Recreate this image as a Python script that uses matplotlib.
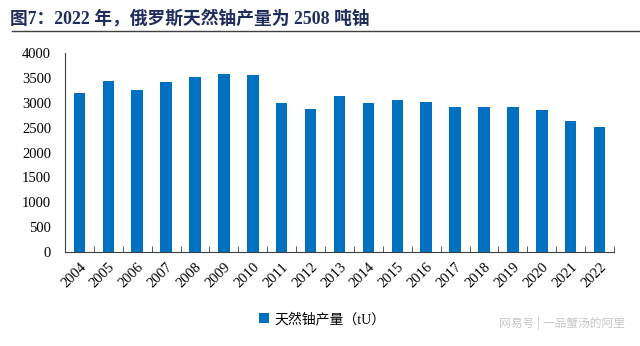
import matplotlib
matplotlib.use("Agg")
import matplotlib.pyplot as plt
from matplotlib.lines import Line2D
from matplotlib.patches import Patch

years = ["2004", "2005", "2006", "2007", "2008", "2009", "2010", "2011", "2012", "2013",
         "2014", "2015", "2016", "2017", "2018", "2019", "2020", "2021", "2022"]
production = [3200, 3431, 3262, 3413, 3521, 3564, 3562, 2993, 2872, 3135,
              2990, 3055, 3004, 2917, 2904, 2911, 2846, 2635, 2508]
yticks = [0, 500, 1000, 1500, 2000, 2500, 3000, 3500, 4000]
title = "图7：2022 年，俄罗斯天然铀产量为 2508 吨铀"
legend_label = "天然铀产量（tU）"
watermark = "网易号 | 一品蟹汤的阿里"

serif = ["Liberation Serif", "Noto Sans CJK SC"]
cjk = ["Liberation Serif", "Noto Sans CJK SC", "DejaVu Sans"]

fig = plt.figure(figsize=(6.4, 3.46), dpi=100)
ax = fig.add_axes([65 / 640, 1 - 252.3 / 346, (614 - 65) / 640, (252.3 - 52.7) / 346])

x = list(range(len(years)))
ax.bar(x, production, width=0.4, color="#0070C0", zorder=2)
ax.set_xlim(-0.5, len(years) - 0.5)
ax.set_ylim(0, 4000)
ax.set_yticks(yticks)
ax.set_yticklabels([str(v) for v in yticks], fontfamily=serif, fontsize=10.5)
ax.tick_params(axis="y", length=0, pad=10)

ax.set_xticks(x)
ax.set_xticklabels(years, rotation=45, ha="right", rotation_mode="anchor",
                   fontfamily=serif, fontsize=10.5)
ax.tick_params(axis="x", length=0, pad=6)
ax.set_xticks([i - 0.5 for i in range(len(years) + 1)], minor=True)
ax.tick_params(axis="x", which="minor", length=4, direction="in", color="#404040")

for s in ["top", "right"]:
    ax.spines[s].set_visible(False)
ax.spines["left"].set_color("#404040")
ax.spines["bottom"].set_color("#404040")
ax.spines["left"].set_linewidth(0.8)
ax.spines["bottom"].set_linewidth(0.8)

fig.text(10 / 640, 1 - 19 / 346, title, fontfamily=["Liberation Serif", "Noto Sans CJK SC"],
         fontsize=12.8, fontweight="bold", color="#1F2D5C", va="center", ha="left")
fig.add_artist(Line2D([12 / 640, 1.0], [1 - 31 / 346, 1 - 31 / 346],
                      color="#404040", linewidth=1.0))

handles = [Patch(facecolor="#0070C0", edgecolor="none")]
leg = fig.legend(handles, [legend_label], loc="center left",
                 bbox_to_anchor=(252 / 640, 1 - 319 / 346), frameon=False,
                 prop={"family": cjk, "size": 10}, handlelength=0.7, handleheight=0.7,
                 handletextpad=0.4, borderpad=0)

fig.text(625 / 640, 1 - 323 / 346, watermark, fontfamily=["Noto Sans CJK SC", "DejaVu Sans"],
         fontsize=8.5, color="#C8C8C8", ha="right", va="center")

fig.savefig("out.png", dpi=100)
